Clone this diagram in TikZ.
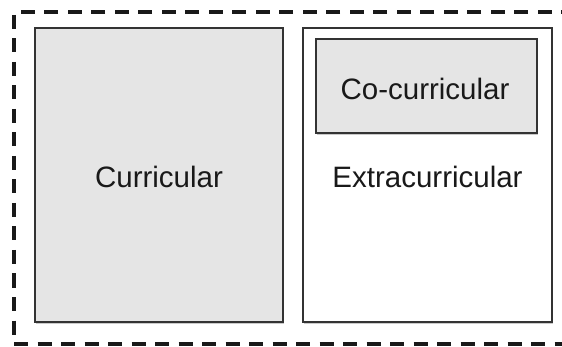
\documentclass[tikz,border=0pt]{standalone}
\usepackage{fontspec}
\setmainfont{Liberation Sans}
\usetikzlibrary{shadows}
\begin{document}
\begin{tikzpicture}[x=1pt,y=-1pt,
  panel/.style={draw=black!80, line width=1.4pt,
    drop shadow={shadow xshift=1.2pt, shadow yshift=-1.6pt, opacity=0.35, fill=black!60}},
  grayfill/.style={fill=black!10},
  label/.style={font=\fontsize{29.5}{32}\selectfont, text=black!90, inner sep=0pt},
  group/.style={draw=black!90, line width=3.3pt, dash pattern=on 14pt off 9.5pt}]
  \useasboundingbox (0,0) rectangle (562,347);
  % outer dashed group, open to the right
  \draw[group] (575,12) -- (14,12) -- (14,344) -- (575,344);
  % boxes
  \node[panel, grayfill, minimum width=248pt, minimum height=294pt, inner sep=0pt]
    (cur) at (159,175) {};
  \node[panel, fill=white, minimum width=249pt, minimum height=294pt, inner sep=0pt]
    (extra) at (427.5,175) {};
  \node[panel, grayfill, line width=1.7pt, minimum width=221pt, minimum height=94pt, inner sep=0pt]
    (co) at (426.5,86) {};
  % labels
  \node[label, anchor=base] (curtext) at (159,188) {Curricular};
  \node[label, anchor=base] (extratext) at (427.5,188) {Extracurricular};
  \node[label, anchor=base] (cotext) at (425,100) {Co-curricular};
\end{tikzpicture}
\end{document}
